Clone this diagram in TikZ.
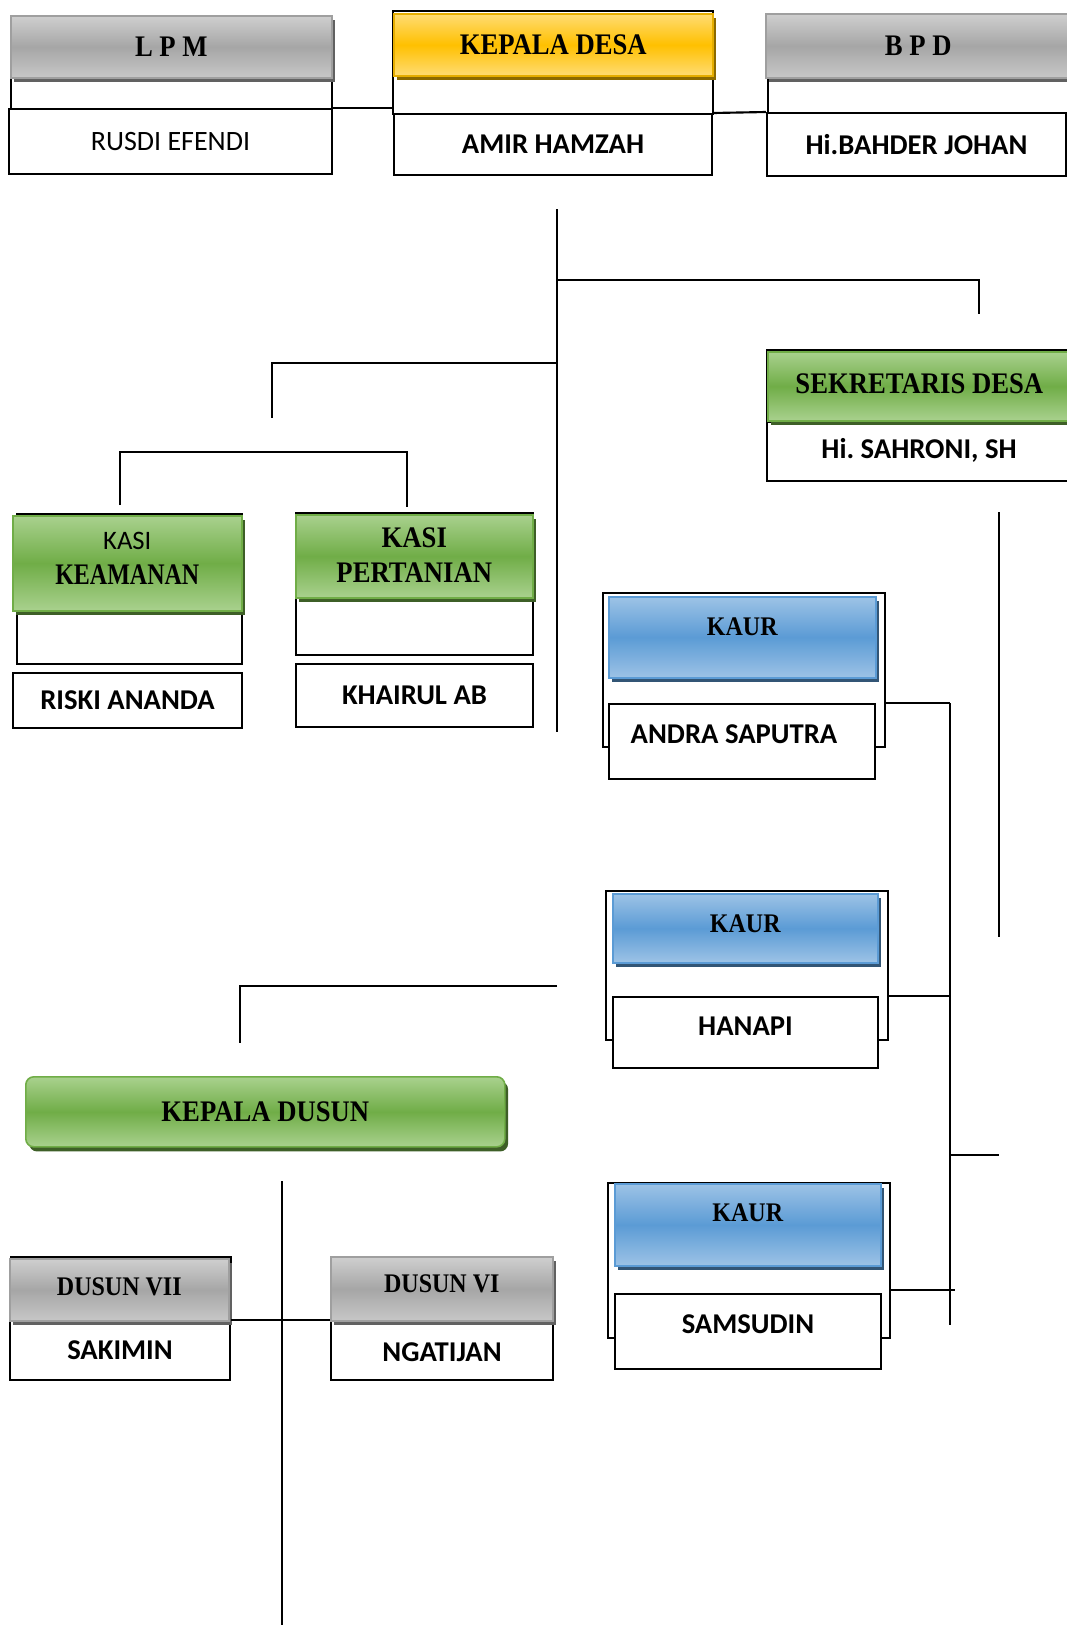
\documentclass[tikz,border=0pt]{standalone}
\usepackage{fontspec}
\usepackage{graphicx}
\setmainfont{Liberation Serif}
\newfontfamily\calib{Carlito}
\usetikzlibrary{shadows,calc}
\newcommand\HFs{\fontsize{20}{26}\selectfont\bfseries}
\newcommand\KFs{\fontsize{18}{22}\selectfont\bfseries}
\newcommand\HF[1]{\scalebox{1}[1.12]{\HFs #1}}
\newcommand\KF[1]{\scalebox{1}[1.12]{\KFs #1}}
\newcommand\NF{\calib\fontsize{21.5}{26}\selectfont\bfseries}
\newcommand\RF{\calib\fontsize{21}{26}\selectfont}
\newcommand\SF{\calib\mdseries\fontsize{20}{24}\selectfont}
% \obox[dy]{style}{name}{x1}{y1}{x2}{y2}{text}
\newcommand\obox[8][0]{%
  \node[#2, anchor=north west, inner sep=0pt,
        minimum width={0.75pt*(#6-#4)}, minimum height={0.75pt*(#7-#5)},
        label={[align=center, inner sep=0pt, yshift={-0.75pt*(#1)}]center:{#8}}]
        (#3) at (#4,#5) {};}
\definecolor{gmid}{HTML}{A6A6A6}
\definecolor{gedge}{HTML}{CFCFCF}
\definecolor{ymid}{HTML}{FFC000}
\definecolor{yedge}{HTML}{FFDC73}
\definecolor{grmid}{HTML}{70AD47}
\definecolor{gredge}{HTML}{A9D18E}
\definecolor{bmid}{HTML}{5B9BD5}
\definecolor{bedge}{HTML}{9DC3E6}
\tikzset{
  frame/.style={draw=black, line width=1.5pt, fill=white},
  wbox/.style={draw=black, line width=1.5pt, fill=white},
  graybar/.style={draw=gray!75, line width=1.2pt, top color=gedge, bottom color=gedge!90!gray, middle color=gmid,
    drop shadow={shadow xshift=2.5pt, shadow yshift=-3.5pt, fill=black!62, opacity=1}},
  yellowbar/.style={draw=ymid!90!black, line width=1.2pt, top color=yedge, bottom color=yedge, middle color=ymid,
    drop shadow={shadow xshift=2.5pt, shadow yshift=-3.5pt, fill=ymid!55!black, opacity=1}},
  greenbar/.style={draw=grmid, line width=1.2pt, top color=gredge, bottom color=gredge, middle color=grmid,
    drop shadow={shadow xshift=2.5pt, shadow yshift=-3.5pt, fill=grmid!55!black, opacity=1}},
  bluebar/.style={draw=bmid, line width=1.2pt, top color=bedge, bottom color=bedge, middle color=bmid,
    drop shadow={shadow xshift=2.5pt, shadow yshift=-3.5pt, fill=bmid!55!black, opacity=1}},
  greenround/.style={greenbar, rounded corners=6pt},
  conn/.style={draw=black, line width=1.6pt},
  mainconn/.style={draw=black, line width=2pt},
  thinconn/.style={draw=black, line width=1.1pt},
}
\begin{document}
\begin{tikzpicture}[x=0.75pt, y=-0.75pt]
\useasboundingbox (0,0) rectangle (1067,1625);

% ---------- top row ----------
\obox{frame}{lpmF}{10}{17}{331}{108}{}
\obox{wbox}{lpmN}{8}{108}{331}{173}{\RF RUSDI EFENDI}
\obox{graybar}{lpmB}{10}{15}{331}{77}{\HF{L P M}}

\obox{frame}{kdF}{392}{10}{712}{113}{}
\obox{wbox}{kdN}{393}{113}{711}{174}{\NF AMIR HAMZAH}
\obox{yellowbar}{kdB}{393}{13}{712}{75}{\HF{KEPALA DESA}}

\obox{frame}{bpdF}{767}{20}{1080}{112}{}
\obox{wbox}{bpdN}{766}{112}{1065}{175}{\NF Hi.BAHDER JOHAN}
\obox{graybar}{bpdB}{765}{13}{1070}{77}{\HF{B P D}}

% ---------- sekretaris ----------
\obox{frame}{sekF}{766}{349}{1072}{480}{}
\obox[-1]{wbox}{sekN}{766}{421}{1070}{480}{\NF Hi.\ SAHRONI, SH}
\obox[-3]{greenbar}{sekB}{767}{351}{1070}{420}{\HF{SEKRETARIS DESA}}

% ---------- kasi ----------
\obox{frame}{kkF}{16}{513}{241}{663}{}
\obox{wbox}{kkN}{12}{672}{241}{727}{\NF RISKI ANANDA}
\obox[-3]{greenbar}{kkB}{12}{515}{241}{610}{\HFs\begin{tabular}{@{}c@{}}\SF KASI\\\scalebox{0.9}[1.12]{\HFs KEAMANAN}\end{tabular}}

\obox{frame}{kpF}{295}{512}{532}{654}{}
\obox{wbox}{kpN}{295}{663}{532}{726}{\NF KHAIRUL AB}
\obox[2]{greenbar}{kpB}{295}{514}{532}{597}{\HFs\begin{tabular}{@{}c@{}}\HF{KASI}\\\HF{PERTANIAN}\end{tabular}}

% ---------- kaur ----------
\obox{frame}{kaF}{602}{592}{884}{746}{}
\obox[-7]{wbox}{kaN}{608}{703}{874}{778}{\NF ANDRA SAPUTRA\hspace*{12pt}}
\obox[-11]{bluebar}{kaB}{608}{596}{875}{677}{\KF{KAUR}}

\obox{frame}{kbF}{605}{890}{887}{1039}{}
\obox[-6]{wbox}{kbN}{612}{996}{877}{1067}{\NF HANAPI}
\obox[-5]{bluebar}{kbB}{612}{893}{877}{962}{\KF{KAUR}}

\obox{frame}{kcF}{607}{1182}{889}{1337}{}
\obox[-7]{wbox}{kcN}{614}{1293}{880}{1368}{\NF SAMSUDIN}
\obox[-12]{bluebar}{kcB}{614}{1183}{880}{1265}{\KF{KAUR}}

% ---------- kepala dusun ----------
\obox{greenround}{kdsB}{25}{1076}{504}{1146}{\HF{KEPALA DUSUN}}

\obox{frame}{d7F}{10}{1256}{230}{1320}{}
\obox{wbox}{d7N}{9}{1320}{229}{1379}{\NF SAKIMIN}
\obox[-3]{graybar}{d7B}{9}{1258}{228}{1320}{\KF{DUSUN VII}}

\obox[2]{wbox}{d6N}{330}{1320}{552}{1379}{\NF NGATIJAN}
\obox[-5]{graybar}{d6B}{330}{1256}{552}{1320}{\KF{DUSUN VI}}

% ---------- connector coordinates ----------
\coordinate (c0) at (557,209);
\coordinate (c1) at (557,732);
\coordinate (jr) at (557,280);
\coordinate (sekIn) at (979,314);
\coordinate (jl) at (557,363);
\coordinate (kasiIn) at (272,418);
\coordinate (kbus) at (264,452);
\coordinate (kkIn) at (120,505);
\coordinate (kpIn) at (407,507);
\coordinate (rb0) at (950,703);
\coordinate (rb1) at (950,1325);
\coordinate (rb3) at (955,1290);
\coordinate (t0) at (999,512);
\coordinate (t1) at (999,937);
\coordinate (s0) at (950,1155);
\coordinate (s1) at (999,1155);
\coordinate (jd) at (557,986);
\coordinate (kdsIn) at (240,1043);
\coordinate (v0) at (282,1181);
\coordinate (v1) at (282,1625);

% ---------- connectors ----------
\draw[conn] (lpmN.north east) -- (lpmN.north east -| kdF.west);
\draw[conn] (kdN.north east) -- (bpdN.north west);
\draw[mainconn] (c0) -- (c1);
\draw[conn] (jr) -| (sekIn);
\draw[conn] (jl) -| (kasiIn);
\draw[conn] (kkIn) -- (kkIn |- kbus) -- (kpIn |- kbus) -- (kpIn);
\draw[conn] (kaF.east |- kaN.north) -- (rb0);
\draw[mainconn] (rb0) -- (rb1);
\draw[conn] (kbF.east |- kbN.north) -- (kbN.north -| rb0);
\draw[conn] (kcF.east |- rb3) -- (rb3);
\draw[thinconn] (t0) -- (t1);
\draw[conn] (s0) -- (s1);
\draw[conn] (jd) -| (kdsIn);
\draw[mainconn] (v0) -- (v1);
\draw[conn] (d7N.north east) -- (d6N.north west);
\end{tikzpicture}
\end{document}
